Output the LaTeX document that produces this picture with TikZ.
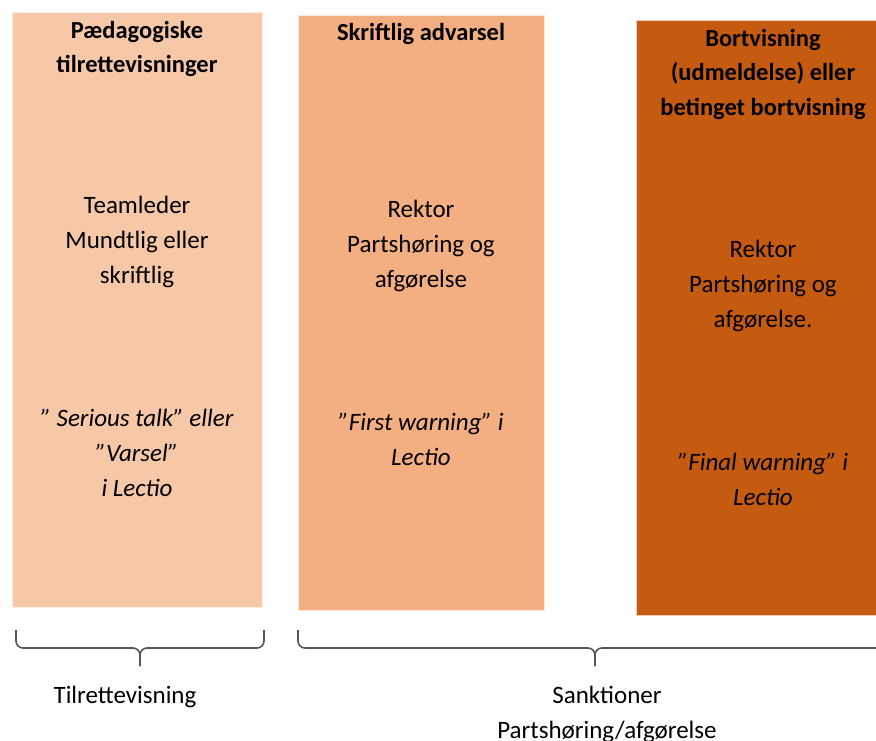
\documentclass[tikz,border=0pt]{standalone}
\usepackage{fontspec}
\setmainfont{Carlito}

\definecolor{peachlight}{HTML}{F6C8A8}
\definecolor{peachmid}{HTML}{F3AF82}
\definecolor{rust}{HTML}{C55A11}
\definecolor{bracegray}{HTML}{555555}

\tikzset{
  column/.style={anchor=north west, inner sep=0pt, draw=white!70!#1, line width=0.8pt, fill=#1},
  head/.style={align=center, font=\fontsize{24.5}{34.5}\selectfont\bfseries},
  body/.style={align=center, font=\fontsize{25}{35}\selectfont},
  note/.style={align=center, font=\fontsize{25}{35}\selectfont\itshape},
  bracket/.style={draw=bracegray, line width=1.6pt, rounded corners=7pt},
}

\begin{document}
\begin{tikzpicture}[x=1pt, y=-1pt]
  \useasboundingbox (0,0) rectangle (876,740);

  % the three steps
  \node[column=peachlight, minimum width=250pt, minimum height=595pt] (pd) at (12,12) {};
  \node[column=peachmid, minimum width=246pt, minimum height=595pt] (sk) at (298,15) {};
  \node[column=rust, minimum width=260pt, minimum height=595pt] (bv) at (636,20) {};

  % step 1
  \node[head] (pdhead) at (137,49) {Pædagogiske\\tilrettevisninger};
  \node[body] (pdwho) at (137,242) {Teamleder\\Mundtlig eller\\skriftlig};
  \node[note] (pdnote) at (137,453) {” Serious talk” eller\\”Varsel”\\i Lectio};

  % step 2
  \node[head] (skhead) at (421,34) {Skriftlig advarsel};
  \node[body] (skwho) at (421,246) {Rektor\\Partshøring og\\afgørelse};
  \node[note] (sknote) at (421,439) {”First warning” i\\Lectio};

  % step 3
  \node[head] (bvhead) at (763,74) {Bortvisning\\(udmeldelse) eller\\betinget bortvisning};
  \node[body] (bvwho) at (763,286) {Rektor\\Partshøring og\\afgørelse.};
  \node[note] (bvnote) at (763,479) {”Final warning” i\\Lectio};

  % braces underneath
  \coordinate (b1l) at (16,630);
  \coordinate (b1r) at (264,630);
  \coordinate (b1m) at (140,648);
  \coordinate (b1tip) at (140,666);
  \draw[bracket] (b1l) |- (b1m) -- (b1tip);
  \draw[bracket] (b1r) |- (b1m) -- (b1tip);

  \coordinate (b2l) at (298,630);
  \coordinate (b2r) at (892,630);
  \coordinate (b2m) at (595,648);
  \coordinate (b2tip) at (595,666);
  \draw[bracket] (b2l) |- (b2m) -- (b2tip);
  \draw[bracket] (b2r) |- (b2m) -- (b2tip);

  \node[body] (tilr) at (125,697) {Tilrettevisning};
  \node[body] (sankt) at (607,714) {Sanktioner\\Partshøring/afgørelse};
\end{tikzpicture}
\end{document}
